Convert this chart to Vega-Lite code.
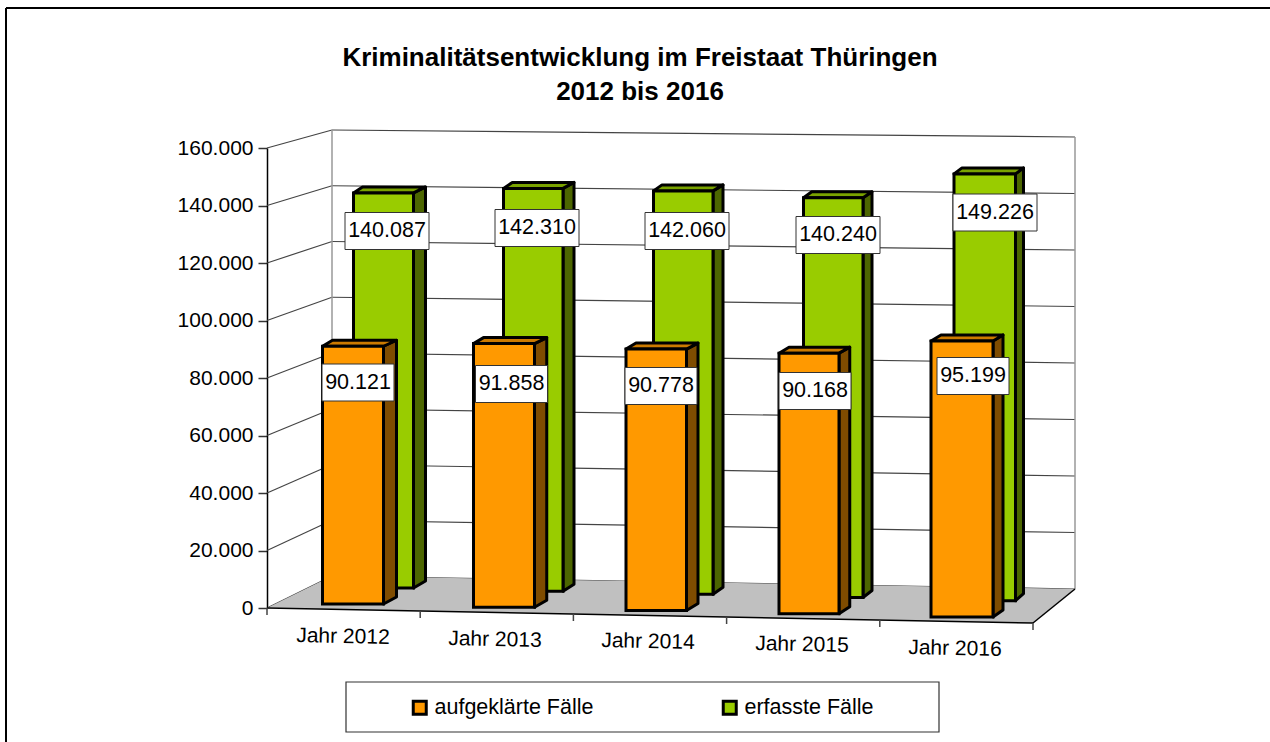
{
"$schema":"https://vega.github.io/schema/vega-lite/v6.json",
"width":1264,"height":734,
"autosize":{"type":"none"},
"padding":{"left":6,"top":8,"right":0,"bottom":0},
"background":"white",
"config":{"view":{"stroke":null},"font":"Liberation Sans"},
"title":{"text":["Kriminalitätsentwicklung im Freistaat Thüringen","2012 bis 2016"],"anchor":"middle","frame":"group","font":"Liberation Sans","fontSize":26,"fontWeight":"bold","color":"black","lineHeight":34,"baseline":"top","offset":-98,"dx":2},
"datasets":{
"faelle":[
{"jahr":2012,"reihe":"aufgeklärte Fälle","faelle":90121},
{"jahr":2013,"reihe":"aufgeklärte Fälle","faelle":91858},
{"jahr":2014,"reihe":"aufgeklärte Fälle","faelle":90778},
{"jahr":2015,"reihe":"aufgeklärte Fälle","faelle":90168},
{"jahr":2016,"reihe":"aufgeklärte Fälle","faelle":95199},
{"jahr":2012,"reihe":"erfasste Fälle","faelle":140087},
{"jahr":2013,"reihe":"erfasste Fälle","faelle":142310},
{"jahr":2014,"reihe":"erfasste Fälle","faelle":142060},
{"jahr":2015,"reihe":"erfasste Fälle","faelle":140240},
{"jahr":2016,"reihe":"erfasste Fälle","faelle":149226}
],
"gitter":[{"wert":0},{"wert":20000},{"wert":40000},{"wert":60000},{"wert":80000},{"wert":100000},{"wert":120000},{"wert":140000},{"wert":160000}],
"kanten":[{"k":0},{"k":1},{"k":2},{"k":3}],
"striche":[{"k":0},{"k":1},{"k":2},{"k":3},{"k":4},{"k":5}],
"rahmen":[{"k":0},{"k":1}],
"boden":[{"flaeche":"Boden"}],
"legendenfeld":[{"feld":"Legende"}]
},
"data":{"name":"faelle"},
"transform":[
{"calculate":"datum.jahr-2012","as":"i"},
{"calculate":"datum.reihe=='erfasste Fälle'","as":"g"},
{"calculate":"(datum.g?[353.5,503.5,653.5,803.5,954]:[322.5,473.5,626,779,931])[datum.i]","as":"xl"},
{"calculate":"(datum.g?[413.5,563,713,863,1015.5]:[383.5,534.5,686.5,839,993])[datum.i]","as":"xr"},
{"calculate":"datum.g?588+3.17*datum.i:604+3.25*datum.i","as":"base"},
{"calculate":"datum.base-datum.faelle*(datum.g?0.00282+0.00001*datum.i:0.00286+0.00001*datum.i)","as":"top"},
{"calculate":"datum.g?12-datum.i:13-0.75*datum.i","as":"dxr"},
{"calculate":"datum.g?9-0.25*datum.i:10","as":"dxl"},
{"calculate":"(608-datum.base)*347.826","as":"yb"},
{"calculate":"(608-datum.top)*347.826","as":"yt"},
{"calculate":"(datum.g?[387,537,687,838,995]:[358,511.5,661,815,973])[datum.i]","as":"lx"},
{"calculate":"(datum.g?[231,228,231,235,212.5]:[382.5,384,386,391,376])[datum.i]","as":"ly"},
{"calculate":"datum.g?42:36","as":"lw"},
{"calculate":"datum.lx-datum.lw","as":"lx1"},
{"calculate":"datum.lx+datum.lw","as":"lx2"},
{"calculate":"(608-datum.ly+18.5)*347.826","as":"ly1"},
{"calculate":"(608-datum.ly-18.5)*347.826","as":"ly2"},
{"calculate":"(608-datum.ly)*347.826","as":"lym"},
{"calculate":"replace(format(datum.faelle,','),',','.')","as":"ltext"},
{"calculate":"'Jahr '+datum.jahr","as":"jtext"},
{"calculate":"[343,495,648,802,955][datum.i]","as":"jx"},
{"calculate":"(608-[637,640,642,645,649][datum.i])*347.826","as":"jy"}
],
"resolve":{"scale":{"color":"shared"}},
"layer":[
{"data":{"name":"gitter"},
 "transform":[{"calculate":"(608-(576-datum.wert*0.0027875))*347.826","as":"yl"},{"calculate":"datum.wert","as":"yf"},{"calculate":"267","as":"x1"},{"calculate":"332","as":"x2"}],
 "mark":{"type":"rule","stroke":"#444","strokeWidth":1.2},
 "encoding":{
  "x":{"field":"x1","type":"quantitative","scale":{"domain":[6,1270],"range":[0,1264],"zero":false,"nice":false},"axis":null},
  "x2":{"field":"x2"},
  "y":{"field":"yf","type":"quantitative","title":null,"scale":{"domain":[0,160000],"range":[600,140],"zero":false,"nice":false},
   "axis":{"values":[0,20000,40000,60000,80000,100000,120000,140000,160000],"offset":-261,"grid":false,"title":null,"labelExpr":"replace(format(datum.value,','),',','.')","labelFont":"Liberation Sans","labelFontSize":21,"labelColor":"black","labelPadding":5,"tickSize":9,"tickColor":"#333","tickWidth":1.5,"domainColor":"black","domainWidth":1.5,"labelFlush":false,"labelOverlap":false}},
  "y2":{"field":"yl"}}},
{"data":{"name":"gitter"},
 "transform":[{"calculate":"(608-(576-datum.wert*0.0027875))*347.826","as":"yl"},{"calculate":"(608-(589-datum.wert*0.002825))*347.826","as":"yr"},{"calculate":"332","as":"x1"},{"calculate":"1075","as":"x2"}],
 "mark":{"type":"rule","stroke":"#444","strokeWidth":1.2},
 "encoding":{"x":{"field":"x1","type":"quantitative"},"x2":{"field":"x2"},"y":{"field":"yl","type":"quantitative"},"y2":{"field":"yr"}}},
{"data":{"name":"boden"},
 "transform":[{"calculate":"[0,1,2,3]","as":"k"},{"flatten":["k"]},
  {"calculate":"[267,332,1033,1075][datum.k]","as":"x"},
  {"calculate":"(608-[608,576,588.3,589][datum.k])*347.826","as":"yo"},
  {"calculate":"(608-[608,609.3,623,589][datum.k])*347.826","as":"yu"}],
 "mark":{"type":"area","orient":"vertical","color":"#C0C0C0"},
 "encoding":{"x":{"field":"x","type":"quantitative"},"y":{"field":"yo","type":"quantitative","stack":null},"y2":{"field":"yu"}}},
{"data":{"name":"kanten"},
 "transform":[
  {"calculate":"[332,1075,267,1033][datum.k]","as":"x1"},
  {"calculate":"[332,1075,1033,1075][datum.k]","as":"x2"},
  {"calculate":"(608-[130,137,608,623][datum.k])*347.826","as":"y1"},
  {"calculate":"(608-[576,589,623,589][datum.k])*347.826","as":"y2"},
  {"calculate":"datum.k<2?'#999999':'#000000'","as":"c"}],
 "mark":{"type":"rule","strokeWidth":1.5},
 "encoding":{"x":{"field":"x1","type":"quantitative"},"x2":{"field":"x2"},"y":{"field":"y1","type":"quantitative"},"y2":{"field":"y2"},"stroke":{"field":"c","type":"nominal","scale":null}}},
{"data":{"name":"striche"},
 "transform":[
  {"calculate":"267+153.2*datum.k","as":"x1"},
  {"calculate":"(608-608-3*datum.k)*347.826","as":"y1"},
  {"calculate":"(608-608-3*datum.k-7)*347.826","as":"y2"}],
 "mark":{"type":"rule","stroke":"#444","strokeWidth":1.5},
 "encoding":{"x":{"field":"x1","type":"quantitative"},"y":{"field":"y1","type":"quantitative"},"y2":{"field":"y2"}}},
{"data":{"name":"rahmen"},
 "transform":[
  {"calculate":"6","as":"x1"},
  {"calculate":"datum.k==0?1270:6","as":"x2"},
  {"calculate":"(608-8)*347.826","as":"y1"},
  {"calculate":"(608-(datum.k==0?8:742))*347.826","as":"y2"}],
 "mark":{"type":"rule","stroke":"black","strokeWidth":2},
 "encoding":{"x":{"field":"x1","type":"quantitative"},"x2":{"field":"x2"},"y":{"field":"y1","type":"quantitative"},"y2":{"field":"y2"}}},
{"data":{"name":"legendenfeld"},
 "transform":[
  {"calculate":"346","as":"x1"},
  {"calculate":"939","as":"x2"},
  {"calculate":"(608-682)*347.826","as":"y1"},
  {"calculate":"(608-732)*347.826","as":"y2"}],
 "mark":{"type":"rect","fill":"white","stroke":"#333","strokeWidth":1.2},
 "encoding":{"x":{"field":"x1","type":"quantitative"},"x2":{"field":"x2"},"y":{"field":"y1","type":"quantitative"},"y2":{"field":"y2"}}},
{"transform":[{"filter":"datum.g"},{"calculate":"[0,1]","as":"k"},{"flatten":["k"]},
  {"calculate":"datum.xr+datum.k*datum.dxr","as":"ax"},
  {"calculate":"(608-datum.top+6*datum.k)*347.826","as":"ao"},
  {"calculate":"(608-datum.base+7*datum.k)*347.826","as":"au"}],
 "mark":{"type":"area","orient":"vertical","color":"#4C6600","stroke":"black","strokeWidth":3,"strokeJoin":"round"},
 "encoding":{"x":{"field":"ax","type":"quantitative"},"y":{"field":"ao","type":"quantitative","stack":null},"y2":{"field":"au"},"detail":{"field":"jahr"}}},
{"transform":[{"filter":"datum.g"},{"calculate":"[0,1,2,3]","as":"k"},{"flatten":["k"]},
  {"calculate":"[datum.xl,datum.xl+datum.dxl,datum.xr,datum.xr+datum.dxr][datum.k]","as":"ax"},
  {"calculate":"(608-datum.top+(datum.k==0?0:6))*347.826","as":"ao"},
  {"calculate":"(608-datum.top+(datum.k<3?0:6))*347.826","as":"au"}],
 "mark":{"type":"area","orient":"vertical","color":"#7AA300","stroke":"black","strokeWidth":3,"strokeJoin":"round"},
 "encoding":{"x":{"field":"ax","type":"quantitative"},"y":{"field":"ao","type":"quantitative","stack":null},"y2":{"field":"au"},"detail":{"field":"jahr"}}},
{"transform":[{"filter":"datum.g"}],
 "mark":{"type":"rect","stroke":"black","strokeWidth":3},
 "encoding":{"x":{"field":"xl","type":"quantitative"},"x2":{"field":"xr"},"y":{"field":"yt","type":"quantitative"},"y2":{"field":"yb"},
  "color":{"field":"reihe","type":"nominal","scale":{"domain":["aufgeklärte Fälle","erfasste Fälle"],"range":["#FF9900","#99CC00"]},
   "legend":{"title":null,"orient":"none","legendX":340,"legendY":675,"columns":2,"padding":13.5,"strokeColor":null,"fillColor":null,"symbolType":"square","symbolSize":169,"symbolStrokeColor":"black","symbolStrokeWidth":3,"symbolOpacity":1,"symbolOffset":49.5,"labelFont":"Liberation Sans","labelFontSize":21.5,"labelColor":"black","labelOffset":4,"labelLimit":400,"columnPadding":76}}}},
{"transform":[{"filter":"!datum.g"},{"calculate":"[0,1]","as":"k"},{"flatten":["k"]},
  {"calculate":"datum.xr+datum.k*datum.dxr","as":"ax"},
  {"calculate":"(608-datum.top+6*datum.k)*347.826","as":"ao"},
  {"calculate":"(608-datum.base+7*datum.k)*347.826","as":"au"}],
 "mark":{"type":"area","orient":"vertical","color":"#7F4C00","stroke":"black","strokeWidth":3,"strokeJoin":"round"},
 "encoding":{"x":{"field":"ax","type":"quantitative"},"y":{"field":"ao","type":"quantitative","stack":null},"y2":{"field":"au"},"detail":{"field":"jahr"}}},
{"transform":[{"filter":"!datum.g"},{"calculate":"[0,1,2,3]","as":"k"},{"flatten":["k"]},
  {"calculate":"[datum.xl,datum.xl+datum.dxl,datum.xr,datum.xr+datum.dxr][datum.k]","as":"ax"},
  {"calculate":"(608-datum.top+(datum.k==0?0:6))*347.826","as":"ao"},
  {"calculate":"(608-datum.top+(datum.k<3?0:6))*347.826","as":"au"}],
 "mark":{"type":"area","orient":"vertical","color":"#CC7A00","stroke":"black","strokeWidth":3,"strokeJoin":"round"},
 "encoding":{"x":{"field":"ax","type":"quantitative"},"y":{"field":"ao","type":"quantitative","stack":null},"y2":{"field":"au"},"detail":{"field":"jahr"}}},
{"transform":[{"filter":"!datum.g"}],
 "mark":{"type":"rect","stroke":"black","strokeWidth":3},
 "encoding":{"x":{"field":"xl","type":"quantitative"},"x2":{"field":"xr"},"y":{"field":"yt","type":"quantitative"},"y2":{"field":"yb"},
  "color":{"field":"reihe","type":"nominal"}}},
{"mark":{"type":"rect","fill":"white","stroke":"#333","strokeWidth":1},
 "encoding":{"x":{"field":"lx1","type":"quantitative"},"x2":{"field":"lx2"},"y":{"field":"ly1","type":"quantitative"},"y2":{"field":"ly2"}}},
{"mark":{"type":"text","font":"Liberation Sans","fontSize":21.5,"color":"black","align":"center","baseline":"middle"},
 "encoding":{"x":{"field":"lx","type":"quantitative"},"y":{"field":"lym","type":"quantitative"},"text":{"field":"ltext","type":"nominal"}}},
{"transform":[{"filter":"!datum.g"}],
 "mark":{"type":"text","font":"Liberation Sans","fontSize":21,"color":"black","align":"center","baseline":"middle","angle":1.1},
 "encoding":{"x":{"field":"jx","type":"quantitative"},"y":{"field":"jy","type":"quantitative"},"text":{"field":"jtext","type":"nominal"}}}
]
}
